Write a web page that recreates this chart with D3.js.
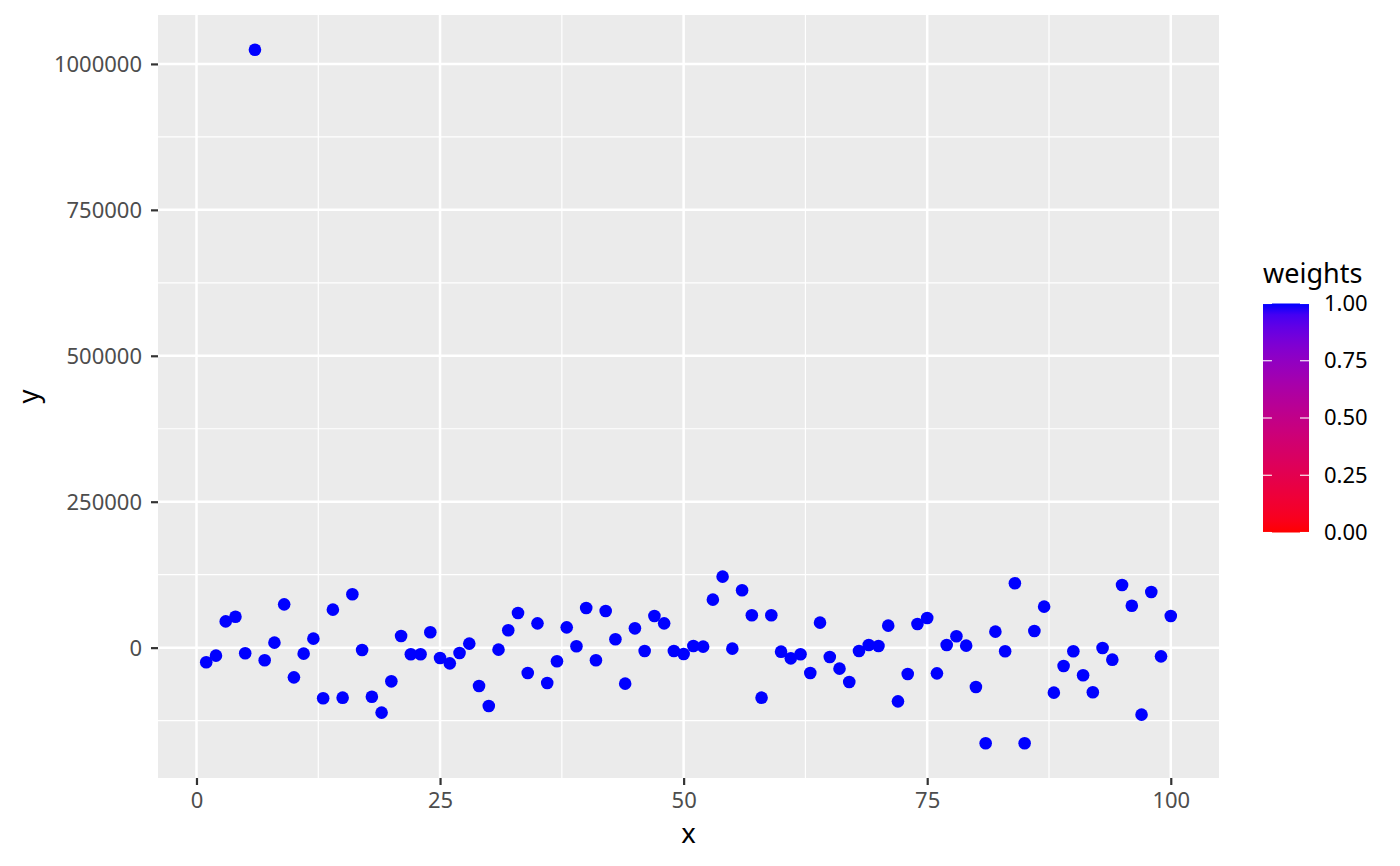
<!DOCTYPE html>
<html>
<head>
<meta charset="utf-8">
<script src="https://cdn.jsdelivr.net/npm/d3@7"></script>
<style>
  html, body { margin: 0; padding: 0; background: #ffffff; }
  svg { display: block; font-family: "Noto Sans", "Open Sans", sans-serif; }
</style>
</head>
<body>
<svg id="chart" width="1400" height="866"></svg>
<script>
const xValues = [1,2,3,4,5,6,7,8,9,10,11,12,13,14,15,16,17,18,19,20,
  21,22,23,24,25,26,27,28,29,30,31,32,33,34,35,36,37,38,39,40,
  41,42,43,44,45,46,47,48,49,50,51,52,53,54,55,56,57,58,59,60,
  61,62,63,64,65,66,67,68,69,70,71,72,73,74,75,76,77,78,79,80,
  81,82,83,84,85,86,87,88,89,90,91,92,93,94,95,96,97,98,99,100];
const yValues = [-25000,-13700,45000,53000,-9700,1024400,-21700,8600,74200,-50900,
  -10300,15400,-86800,65100,-85700,91400,-4000,-84000,-111300,-57700,
  20000,-11400,-11400,26300,-17700,-26900,-9100,6900,-65600,-99900,
  -3400,29700,59400,-43400,41600,-60500,-23400,34800,2300,68000,
  -21700,62900,14300,-61700,33100,-5700,54300,41600,-5700,-10800,
  2900,1700,82200,121600,-1700,98200,55400,-85700,55400,-6900,
  -18300,-11400,-43400,42800,-16000,-36000,-58800,-5700,4600,2900,
  37700,-92000,-45100,40500,50800,-44000,4600,19400,3400,-67400,
  -163900,27400,-6300,110200,-163900,28600,70200,-77100,-31400,-6300,
  -47400,-76500,-600,-20600,107400,71900,-114800,95400,-14900,54300];
const weights = xValues.map(() => 1);
const xTicks = [0, 25, 50, 75, 100];
const xMinor = [12.5, 37.5, 62.5, 87.5];
const yTicks = [0, 250000, 500000, 750000, 1000000];
const yMinor = [-125000, 125000, 375000, 625000, 875000];
const legendTicks = [0, 0.25, 0.5, 0.75, 1];
const legendLabels = ["0.00", "0.25", "0.50", "0.75", "1.00"];

const svg = d3.select("#chart");
const panel = { left: 158, right: 1219, top: 15, bottom: 778 };

function expand(ext) { const s = ext[1] - ext[0]; return [ext[0] - 0.05 * s, ext[1] + 0.05 * s]; }
const x = d3.scaleLinear().domain(expand(d3.extent(xValues))).range([panel.left, panel.right]);
const y = d3.scaleLinear().domain(expand(d3.extent(yValues))).range([panel.bottom, panel.top]);
const colour = d3.scaleLinear().domain([0, 1]).range(["red", "blue"]).interpolate(d3.interpolateLab);

// panel background
svg.append("rect").attr("x", panel.left).attr("y", panel.top)
  .attr("width", panel.right - panel.left).attr("height", panel.bottom - panel.top)
  .attr("fill", "#EBEBEB");

const grid = svg.append("g");
grid.selectAll(".ymin").data(yMinor).join("line")
  .attr("x1", panel.left).attr("x2", panel.right)
  .attr("y1", d => y(d)).attr("y2", d => y(d))
  .attr("stroke", "#ffffff").attr("stroke-width", 1.2);
grid.selectAll(".xmin").data(xMinor).join("line")
  .attr("y1", panel.top).attr("y2", panel.bottom)
  .attr("x1", d => x(d)).attr("x2", d => x(d))
  .attr("stroke", "#ffffff").attr("stroke-width", 1.2);
grid.selectAll(".ymaj").data(yTicks).join("line")
  .attr("x1", panel.left).attr("x2", panel.right)
  .attr("y1", d => y(d)).attr("y2", d => y(d))
  .attr("stroke", "#ffffff").attr("stroke-width", 2.5);
grid.selectAll(".xmaj").data(xTicks).join("line")
  .attr("y1", panel.top).attr("y2", panel.bottom)
  .attr("x1", d => x(d)).attr("x2", d => x(d))
  .attr("stroke", "#ffffff").attr("stroke-width", 2.5);

// points
const data = xValues.map((v, i) => ({ x: v, y: yValues[i], w: weights[i] }));
svg.append("g").selectAll("circle").data(data).join("circle")
  .attr("cx", d => x(d.x)).attr("cy", d => y(d.y)).attr("r", 6.3)
  .attr("fill", d => colour(d.w));

// axes
const xAxis = svg.append("g").attr("transform", `translate(0,${panel.bottom})`)
  .call(d3.axisBottom(x).tickValues(xTicks).tickSize(7).tickPadding(6).tickFormat(d3.format("d")));
const yAxis = svg.append("g").attr("transform", `translate(${panel.left},0)`)
  .call(d3.axisLeft(y).tickValues(yTicks).tickSize(7).tickPadding(9).tickFormat(d3.format("d")));
[xAxis, yAxis].forEach(a => {
  a.select(".domain").remove();
  a.selectAll(".tick line").attr("stroke", "#333333").attr("stroke-width", 2.2);
  a.selectAll(".tick text").attr("fill", "#4D4D4D").style("font-size", "22px")
    .style("font-family", "'Noto Sans', sans-serif");
});
yAxis.selectAll(".tick text").attr("dy", "0.34em");
xAxis.selectAll(".tick text").attr("dy", "0.76em");

// axis titles
svg.append("text").attr("x", (panel.left + panel.right) / 2).attr("y", 843)
  .attr("text-anchor", "middle").style("font-size", "27.5px").attr("fill", "#000").text("x");
svg.append("text").attr("transform", `translate(38,${(panel.top + panel.bottom) / 2}) rotate(-90)`)
  .attr("text-anchor", "middle").style("font-size", "27.5px").attr("fill", "#000").text("y");

// legend
const bar = { x: 1263, w: 46, top: 303.5, bottom: 532.5 };
const ly = d3.scaleLinear().domain([0, 1]).range([bar.bottom, bar.top]);
const defs = svg.append("defs");
const grad = defs.append("linearGradient").attr("id", "wgrad")
  .attr("x1", "0").attr("y1", "1").attr("x2", "0").attr("y2", "0");
d3.range(0, 1.0001, 0.05).forEach(t => {
  grad.append("stop").attr("offset", t).attr("stop-color", colour(t));
});
svg.append("text").attr("x", bar.x).attr("y", 283).style("font-size", "27px")
  .attr("fill", "#000").text("weights");
svg.append("rect").attr("x", bar.x).attr("y", bar.top).attr("width", bar.w)
  .attr("height", bar.bottom - bar.top).attr("fill", "url(#wgrad)");
const lt = svg.append("g");
lt.selectAll(".tl").data(legendTicks).join("line")
  .attr("x1", bar.x).attr("x2", bar.x + 9).attr("y1", d => ly(d)).attr("y2", d => ly(d))
  .attr("stroke", "#ffffff").attr("stroke-width", 1.1);
lt.selectAll(".tr").data(legendTicks).join("line")
  .attr("x1", bar.x + bar.w - 9).attr("x2", bar.x + bar.w).attr("y1", d => ly(d)).attr("y2", d => ly(d))
  .attr("stroke", "#ffffff").attr("stroke-width", 1.1);
lt.selectAll("text").data(legendTicks).join("text")
  .attr("x", 1324).attr("y", d => ly(d)).attr("dy", "0.34em")
  .style("font-size", "22px").attr("fill", "#000")
  .text((d, i) => legendLabels[i]);
</script>
</body>
</html>
